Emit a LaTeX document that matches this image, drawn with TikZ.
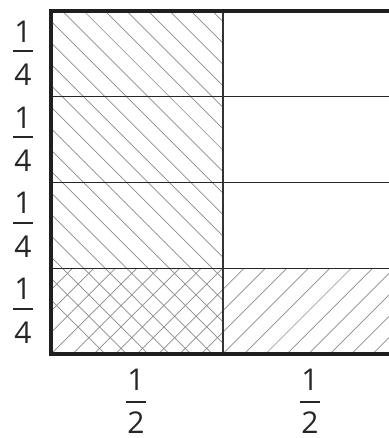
\documentclass[tikz,border=0pt]{standalone}
\usepackage{fontspec}
\setmainfont{Open Sans}
\begin{document}
\begin{tikzpicture}[x=1pt,y=1pt,
  num/.style={font=\fontsize{30}{30}\selectfont, inner sep=0pt, anchor=base, text=black!85},
  fracbar/.style={line width=2pt, draw=black!85},
  hatch/.style={draw=black!45, line width=0.7pt},
  border/.style={line width=4pt, draw=black!88, line join=miter},
  gridline/.style={line width=1.4pt, draw=black!85},
  midline/.style={line width=2pt, draw=black!80}]
\useasboundingbox (0,0) rectangle (388,438);
\fill[white] (0,0) rectangle (388,438);
% corners
\coordinate (TL) at (51,427);
\coordinate (BL) at (51,83.5);
\coordinate (TR) at (400,427);
\coordinate (BR) at (400,83.5);
% hatching: top three cells of left column
\begin{scope}
  \clip (51,169.75) rectangle (223,427);
  \foreach \k in {-14,...,9}
    \draw[hatch] ({489.3+\k*21.44-450},450) -- ({489.3+\k*21.44+50},-50);
\end{scope}
% bottom-left crosshatch
\begin{scope}
  \clip (51,83.5) rectangle (223,169.75);
  \foreach \k in {-14,...,9}
    \draw[hatch] ({489.3+\k*21.44-450},450) -- ({489.3+\k*21.44+50},-50);
  \foreach \k in {-9,...,16}
    \draw[hatch] ({74.3+\k*21.44-50},-50) -- ({74.3+\k*21.44+450},450);
\end{scope}
% bottom-right single hatch
\begin{scope}
  \clip (223,83.5) rectangle (400,169.75);
  \foreach \k in {-9,...,16}
    \draw[hatch] ({74.3+\k*21.44-50},-50) -- ({74.3+\k*21.44+450},450);
\end{scope}
% grid lines
\foreach \yy in {341.25,255.5,169.75}
  \draw[gridline] (51,\yy) -- (400,\yy);
\draw[midline] (223,83.5) -- (223,427);
% outer border
\draw[border] (TR) -- (TL) -- (BL) -- (BR);
% left fractions
\foreach \yb/\nm in {386.5/a,300.75/b,215/c,129.25/d}{
  \node[num] (n\nm) at (23,\yb+9) {1};
  \node[num] (d\nm) at (23,\yb-34.3) {4};
  \draw[fracbar] (13,\yb) -- (33,\yb);
}
% bottom fractions
\foreach \xb/\nm in {136/e,310/f}{
  \node[num] (n\nm) at (\xb,47) {1};
  \node[num] (d\nm) at (\xb,4.5) {2};
  \draw[fracbar] (\xb-10,36) -- (\xb+10,36);
}
\end{tikzpicture}
\end{document}
